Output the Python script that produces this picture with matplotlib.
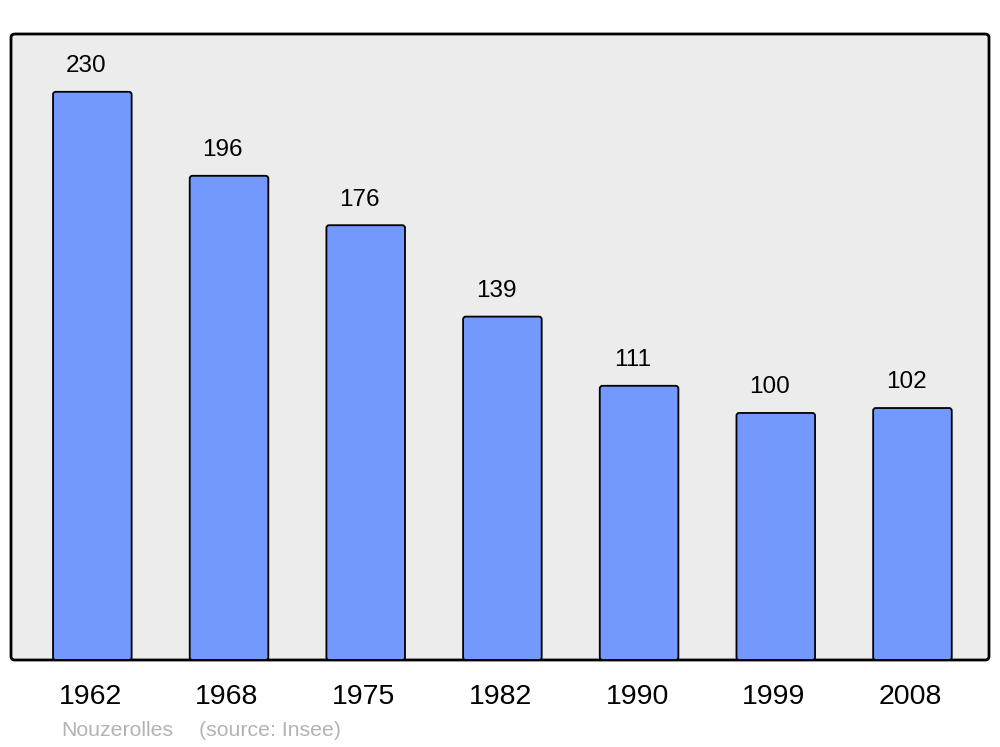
import matplotlib.pyplot as plt
import matplotlib.transforms as mtransforms
from matplotlib.patches import FancyBboxPatch

plt.rcParams['font.family'] = ['Liberation Sans', 'DejaVu Sans']

years = ["1962", "1968", "1975", "1982", "1990", "1999", "2008"]
population = [230, 196, 176, 139, 111, 100, 102]
commune = "Nouzerolles"
source = "(source: Insee)"

fig = plt.figure(figsize=(10, 7.47), dpi=100)
ax = fig.add_axes([0.011, 1 - 660 / 747, 0.978, 626 / 747])
ax.set_xlim(-0.595, 6.56)
ax.set_ylim(0, 253.4)
ax.set_facecolor("none")
for s in ax.spines.values():
    s.set_visible(False)

# rounded frame behind everything
frame = FancyBboxPatch((0, 0), 1, 1, boxstyle="round,pad=0,rounding_size=0.004",
                       mutation_aspect=978 / 626, transform=ax.transAxes,
                       facecolor="#ececec", edgecolor="black", linewidth=2,
                       clip_on=False, zorder=0)
ax.add_patch(frame)

width = 0.575
aspect = 136.7 / 2.47
for i, v in enumerate(population):
    bar = FancyBboxPatch((i - width / 2, 0), width, v,
                         boxstyle="round,pad=0,rounding_size=0.02",
                         mutation_aspect=aspect, facecolor="#7399ff",
                         edgecolor="black", linewidth=1.3, zorder=2)
    ax.add_patch(bar)
    ax.annotate(str(v), (i, v), xytext=(-4.5, 18.5), textcoords="offset points",
                ha="center", va="center", fontsize=17.5)

ax.set_xticks(range(len(years)))
ax.set_xticklabels(years, fontsize=20.5)
ax.tick_params(axis="x", length=0, pad=17)
shift = mtransforms.ScaledTranslation(-2 / 100, 0, fig.dpi_scale_trans)
for lbl in ax.get_xticklabels():
    lbl.set_transform(lbl.get_transform() + shift)
ax.set_yticks([])

fig.text(0.061, 1 - 730 / 747, commune, color="#b3b3b3", fontsize=15.3, va="center")
fig.text(0.199, 1 - 730 / 747, source, color="#b3b3b3", fontsize=15.3, va="center")

fig.savefig("out.png", dpi=100)
